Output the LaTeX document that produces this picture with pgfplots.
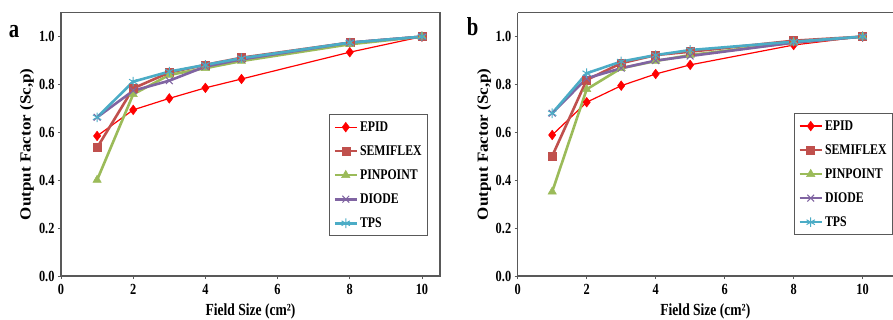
\documentclass[border=0pt]{standalone}
\usepackage{fontspec}
\usepackage{graphicx}
\setmainfont{Liberation Serif}[FakeStretch=0.8]
\newfontfamily\ylabfont{Liberation Serif}
\usepackage{pgfplots}
\pgfplotsset{compat=1.18}
\definecolor{cEPID}{HTML}{FF0000}
\definecolor{cSEMI}{HTML}{C0504D}
\definecolor{cPIN}{HTML}{9BBB59}
\definecolor{cDIO}{HTML}{8064A2}
\definecolor{cTPS}{HTML}{4BACC6}
\definecolor{frame}{HTML}{595959}
\pgfplotsset{
 panel/.style={
  scale only axis, height=263.3bp,
  xmin=0, ymin=0, ymax=1.1,
  xtick={0,2,4,6,8,10}, ytick={0,0.2,0.4,0.6,0.8,1.0},
  yticklabel style={/pgf/number format/.cd, fixed, fixed zerofill, precision=1},
  /pgf/number format/assume math mode=true,
  tick label style={font=\fontsize{15.5}{15.5}\selectfont\bfseries},
  xticklabel style={yshift=-2bp},
  tick align=outside, major tick length=3bp, tick style={frame, line width=0.8bp},
  xtick pos=left, ytick pos=left,
  axis line style={frame, line width=1.2bp},
  xlabel={\bfseries Field Size (cm²)},
  ylabel={\scalebox{1.1}[1]{\ylabfont\bfseries Output Factor (Sc,p)}},
  xlabel style={font=\fontsize{17}{17}\selectfont, at={(axis description cs:0.5,-0.133)}, anchor=center},
  ylabel style={font=\fontsize{15.5}{15.5}\selectfont, at={(axis description cs:-0.0897,0.5)}, anchor=center},
  legend style={font=\fontsize{14.8}{14.8}\selectfont\bfseries, draw=frame, line width=1bp,
    row sep=8.8bp, inner xsep=4bp, inner ysep=5bp, cells={anchor=west}},
  legend image code/.code={\draw[mark repeat=2,mark phase=2,##1] plot coordinates {(0bp,0bp) (11bp,0bp) (22bp,0bp)};},
 },
 sEPID/.style={color=cEPID, line width=1.2bp, mark=diamond*, mark size=4.8bp, mark options={fill=cEPID, line width=0.5bp}},
 sSEMI/.style={color=cSEMI, line width=2.6bp, mark=square*, mark size=4bp, mark options={fill=cSEMI, line width=0.5bp}},
 sPIN/.style={color=cPIN, line width=2.6bp, mark=triangle*, mark size=4.8bp, mark options={fill=cPIN, line width=0.5bp}},
 sDIO/.style={color=cDIO, line width=2.6bp, mark=x, mark size=4.8bp, mark options={line width=1bp}},
 sTPS/.style={color=cTPS, line width=2.6bp, mark=asterisk, mark size=4.8bp, mark options={line width=1bp}},
}
\begin{document}
\begin{tikzpicture}
\useasboundingbox (0,0) rectangle (893bp,320bp);
\node[font=\fontsize{26}{26}\selectfont\bfseries] at (14bp,288bp) {a};
\node[font=\fontsize{26}{26}\selectfont\bfseries] at (472.7bp,293bp) {b};
\begin{axis}[panel, width=379bp, xmax=10.5, at={(61bp,44bp)}, anchor=south west,
  legend style={at={(axis description cs:0.707,0.615)}, anchor=north west}]
\addplot[sEPID] coordinates {(1,0.585) (2,0.694) (3,0.742) (4,0.786) (5,0.823) (8,0.935) (10,1.0)};
\addlegendentry{EPID}
\addplot[sSEMI] coordinates {(1,0.536) (2,0.784) (3,0.85) (4,0.882) (5,0.912) (8,0.975) (10,1.0)};
\addlegendentry{SEMIFLEX}
\addplot[sPIN] coordinates {(1,0.401) (2,0.759) (3,0.84) (4,0.868) (5,0.898) (8,0.968) (10,1.0)};
\addlegendentry{PINPOINT}
\addplot[sDIO] coordinates {(1,0.663) (2,0.774) (3,0.816) (4,0.875) (5,0.905) (8,0.975) (10,1.0)};
\addlegendentry{DIODE}
\addplot[sTPS] coordinates {(1,0.663) (2,0.812) (3,0.854) (4,0.882) (5,0.91) (8,0.975) (10,1.0)};
\addlegendentry{TPS}
\end{axis}
\begin{axis}[panel, width=375.3bp, xmax=10.88, at={(517.7bp,44bp)}, anchor=south west,
  axis x line*=box, axis y line*=left,
  legend style={at={(axis description cs:0.736,0.619)}, anchor=north west}]
\addplot[sEPID] coordinates {(1,0.589) (2,0.726) (3,0.795) (4,0.844) (5,0.882) (8,0.965) (10,1.0)};
\addlegendentry{EPID}
\addplot[sSEMI] coordinates {(1,0.501) (2,0.819) (3,0.889) (4,0.923) (5,0.937) (8,0.983) (10,1.0)};
\addlegendentry{SEMIFLEX}
\addplot[sPIN] coordinates {(1,0.352) (2,0.78) (3,0.868) (4,0.898) (5,0.923) (8,0.975) (10,1.0)};
\addlegendentry{PINPOINT}
\addplot[sDIO] coordinates {(1,0.68) (2,0.826) (3,0.868) (4,0.9) (5,0.919) (8,0.975) (10,1.0)};
\addlegendentry{DIODE}
\addplot[sTPS] coordinates {(1,0.68) (2,0.847) (3,0.896) (4,0.923) (5,0.944) (8,0.979) (10,1.0)};
\addlegendentry{TPS}
\end{axis}
\end{tikzpicture}
\end{document}
